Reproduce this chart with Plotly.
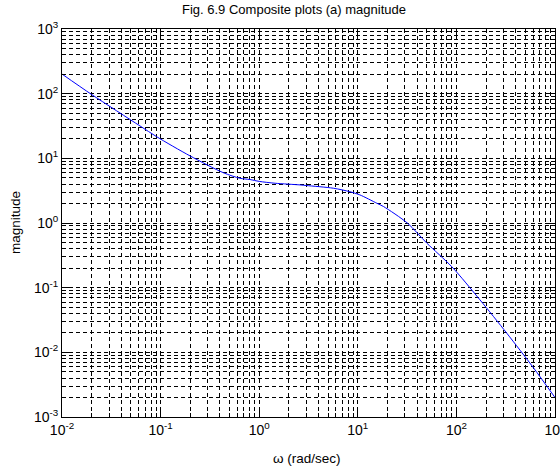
import plotly.graph_objects as go

# Composite magnitude response
omega = [0.01, 0.02, 0.0618, 0.0912, 0.199, 0.432, 0.638, 0.807, 1.0, 1.45,
         2.6, 3.0, 5.65, 8.3, 10.5, 15.6, 18.2, 32, 50, 90, 173, 324, 603, 1000]
magnitude = [201, 97, 31.7, 21.6, 10.9, 6.0, 4.92, 4.7, 4.4, 4.12,
             3.88, 3.8, 3.45, 3.05, 2.72, 2.02, 1.80, 0.99, 0.49, 0.21,
             0.065, 0.0198, 0.0058, 0.002]

x_decades = [-2, -1, 0, 1, 2, 3]
y_decades = [-3, -2, -1, 0, 1, 2, 3]

title_text = "Fig. 6.9 Composite plots (a) magnitude"
x_title = "ω (rad/sec)"
y_title = "magnitude"

FONT = "Liberation Sans, Arial, Helvetica, sans-serif"
W, H = 560, 472
L, R, T, B = 62, 5, 29, 55


def decade_ticks(decades):
    vals = [10.0 ** d for d in decades]
    text = ["10<sup>%d</sup>" % d for d in decades]
    minor = [m * 10.0 ** d for d in decades[:-1] for m in range(2, 10)]
    return vals, text, minor


fig = go.Figure()
fig.add_trace(go.Scatter(
    x=omega, y=magnitude, mode="lines",
    line=dict(color="#0000ff", width=1, shape="spline", smoothing=0.8),
    hoverinfo="skip", showlegend=False,
))

grid_style = dict(showgrid=True, gridcolor="black", gridwidth=1, griddash="4px,3px")


def axis_style(decades):
    vals, text, minor = decade_ticks(decades)
    return dict(
        type="log", range=[decades[0], decades[-1]],
        tickmode="array", tickvals=vals, ticktext=text,
        ticklabeloverflow="allow", automargin=False,
        showline=True, linecolor="black", linewidth=1, mirror="allticks",
        ticks="inside", ticklen=7, tickcolor="black", tickwidth=1,
        tickfont=dict(family=FONT, size=14, color="black"),
        zeroline=False,
        minor=dict(tickmode="array", tickvals=minor, ticks="inside", ticklen=4,
                   tickcolor="black", **grid_style),
        **grid_style,
    )


fig.update_xaxes(**axis_style(x_decades))
fig.update_yaxes(**axis_style(y_decades))

plot_h = H - T - B
plot_w = W - L - R

fig.add_annotation(text=title_text, xref="paper", yref="paper",
                   x=(294 - L) / plot_w, y=1 + (T - 10) / plot_h,
                   xanchor="center", yanchor="middle", showarrow=False,
                   font=dict(family=FONT, size=13, color="black"))
fig.add_annotation(text=x_title, xref="paper", yref="paper",
                   x=(307 - L) / plot_w, y=-(458 - (H - B)) / plot_h,
                   xanchor="center", yanchor="middle", showarrow=False,
                   font=dict(family=FONT, size=13.5, color="black"))
fig.add_annotation(text=y_title, xref="paper", yref="paper",
                   x=-(L - 15) / plot_w, y=0.5, textangle=-90,
                   xanchor="center", yanchor="middle", showarrow=False,
                   font=dict(family=FONT, size=13.5, color="black"))

fig.update_layout(
    width=W, height=H,
    margin=dict(l=L, r=R, t=T, b=B, pad=0, autoexpand=False),
    paper_bgcolor="white", plot_bgcolor="white",
    font=dict(family=FONT, color="black"),
)

fig.write_html("out.html")
